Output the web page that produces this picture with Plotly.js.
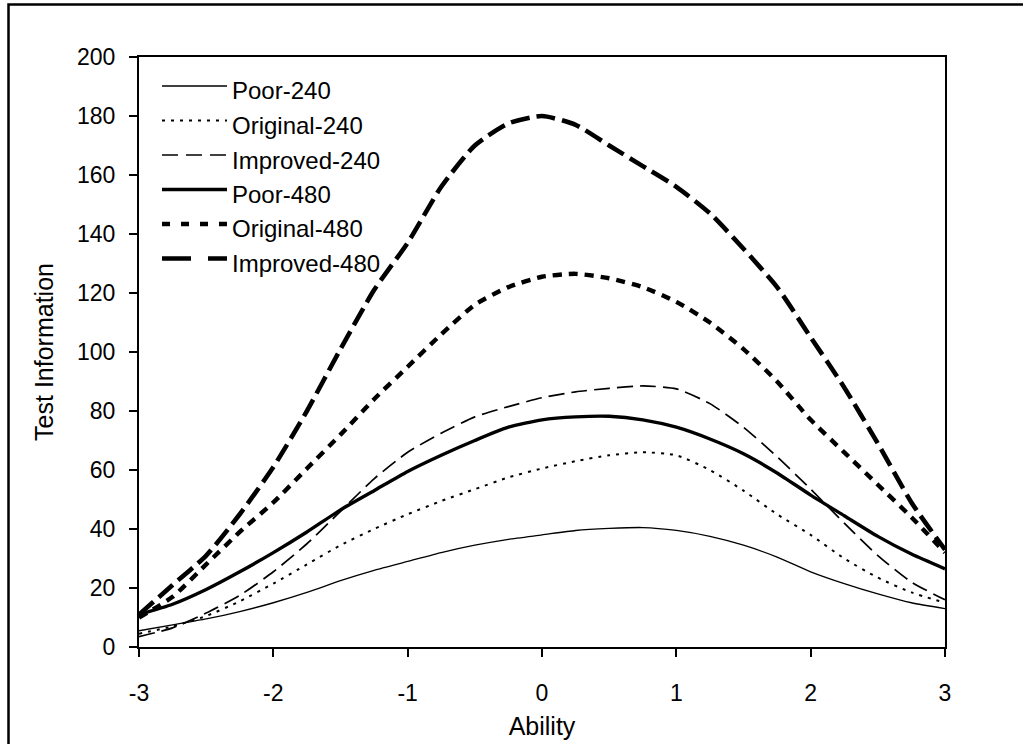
<!DOCTYPE html>
<html>
<head>
<meta charset="utf-8">
<script src="https://cdn.plot.ly/plotly-3.0.1.min.js"></script>
<style>
html,body{margin:0;padding:0;background:#fff;}
#chart{width:1023px;height:744px;}
</style>
</head>
<body>
<div id="chart"></div>
<script>
// Ability (theta) grid
const ability = [-3, -2.75, -2.5, -2.25, -2, -1.75, -1.5, -1.25, -1, -0.75, -0.5, -0.25, 0,
                 0.25, 0.5, 0.75, 1, 1.25, 1.5, 1.75, 2, 2.25, 2.5, 2.75, 3];

// Test information per condition
const poor240 = [5.5, 7.5, 9.5, 12, 15, 18.5, 22.5, 26, 29, 32, 34.5, 36.5, 38,
                 39.5, 40.2, 40.5, 39.5, 37.5, 34.5, 30.5, 25.5, 21.5, 18, 15, 13];
const original240 = [4.5, 7, 10.5, 15.5, 21.5, 28, 34.5, 40, 45, 49.5, 53.5, 57.5, 60.5,
                     63, 65, 66, 65, 60, 53, 45, 38, 30, 23.5, 18.5, 15];
const improved240 = [3.5, 6.5, 11.5, 17.5, 25.5, 35, 46, 57, 66, 72.5, 78, 81.5, 84.5,
                     86.5, 87.7, 88.5, 87.5, 82.5, 74.5, 64.5, 53.5, 42, 31, 22, 16];
const poor480 = [11, 14.5, 19.5, 25.5, 32, 39, 46.5, 53, 59.5, 65, 70, 74.5, 77,
                 78, 78.2, 77, 74.5, 70.5, 65.5, 59, 51.5, 44.5, 37.5, 31.5, 26.5];
const original480 = [10, 17, 28, 39, 49, 60.5, 72, 84, 95, 106, 116, 122, 125.5,
                     126.5, 125, 122, 117, 110, 101, 90, 77, 66, 55, 44, 32];
const improved480 = [11, 21, 31, 45, 61, 80, 101, 121, 137, 156, 170, 177.5, 180,
                     177, 170, 163, 156, 147, 135, 122, 105, 88, 69, 49, 33];

const seriesNames = ['Poor-240', 'Original-240', 'Improved-240', 'Poor-480', 'Original-480', 'Improved-480'];
const seriesValues = [poor240, original240, improved240, poor480, original480, improved480];

const xTicks = [-3, -2, -1, 0, 1, 2, 3];
const yTicks = [0, 20, 40, 60, 80, 100, 120, 140, 160, 180, 200];

// styling (line width, dash for curve, dash for legend sample)
const styles = [
  {w: 1.3, dash: 'solid',     ldash: 'solid'},
  {w: 2.0, dash: '3px,6px',   ldash: '3px,6px'},
  {w: 1.7, dash: '16px,7px',  ldash: '16px,8px'},
  {w: 3.4, dash: 'solid',     ldash: 'solid'},
  {w: 4.4, dash: '9px,7px',   ldash: '8px,11px'},
  {w: 4.6, dash: '19px,7px',  ldash: '29px,17px'}
];

const FONT = 'Liberation Sans, Arial, sans-serif';

const traces = seriesNames.map((name, i) => ({
  type: 'scatter',
  mode: 'lines',
  name: name,
  x: ability,
  y: seriesValues[i],
  line: {color: '#000', width: styles[i].w, dash: styles[i].dash, shape: 'spline', smoothing: 0.6},
  showlegend: false,
  hoverinfo: 'x+y+name'
}));

// plot-area pixel geometry helpers for the hand-placed legend
const W = 1023, H = 744;
const L = 139, R = 945, T = 57, B = 647;
const px2paperX = p => (p - L) / (R - L);
const px2paperY = p => (B - p) / (B - T);

const shapes = [];
const annotations = [];
const legendRowY = [86, 120.5, 155, 189.5, 224, 258.5];
seriesNames.forEach((name, i) => {
  const yy = px2paperY(legendRowY[i]);
  shapes.push({
    type: 'line', xref: 'paper', yref: 'paper',
    x0: px2paperX(162), x1: px2paperX(227), y0: yy, y1: yy,
    line: {color: '#000', width: styles[i].w, dash: styles[i].ldash}
  });
  annotations.push({
    xref: 'paper', yref: 'paper', x: px2paperX(230), y: px2paperY(legendRowY[i] + 5),
    xanchor: 'left', yanchor: 'middle', showarrow: false,
    text: name, font: {family: FONT, size: 24, color: '#000'}
  });
});

// outer chart frame (right/bottom edges fall outside the picture)
shapes.push({
  type: 'rect', xref: 'paper', yref: 'paper',
  x0: px2paperX(8.5), x1: px2paperX(1035), y0: px2paperY(760), y1: px2paperY(4.5),
  line: {color: '#000', width: 2.5}, fillcolor: 'rgba(0,0,0,0)', layer: 'above'
});

const layout = {
  width: W, height: H,
  paper_bgcolor: '#fff', plot_bgcolor: '#fff',
  margin: {l: L, r: W - R, t: T, b: H - B, pad: 0},
  font: {family: FONT, color: '#000'},
  showlegend: false,
  xaxis: {
    range: [-3, 3], tickvals: xTicks, ticktext: xTicks.map(String),
    showgrid: false, zeroline: false,
    showline: true, linecolor: '#000', linewidth: 2, mirror: true,
    ticks: 'outside', ticklen: 8, tickwidth: 1.5, tickcolor: '#000',
    ticklabelstandoff: 16,
    tickfont: {family: FONT, size: 23, color: '#000'},
    title: {text: 'Ability', font: {family: FONT, size: 25, color: '#000'}, standoff: 13}
  },
  yaxis: {
    range: [0, 200], tickvals: yTicks, ticktext: yTicks.map(String),
    showgrid: false, zeroline: false,
    showline: true, linecolor: '#000', linewidth: 2, mirror: true,
    ticks: 'outside', ticklen: 8, tickwidth: 1.5, tickcolor: '#000',
    ticklabelstandoff: 9,
    tickfont: {family: FONT, size: 23, color: '#000'},
    title: {text: 'Test Information', font: {family: FONT, size: 25, color: '#000'}, standoff: 16}
  },
  shapes: shapes,
  annotations: annotations
};

Plotly.newPlot('chart', traces, layout, {displayModeBar: false, responsive: false});
</script>
</body>
</html>
